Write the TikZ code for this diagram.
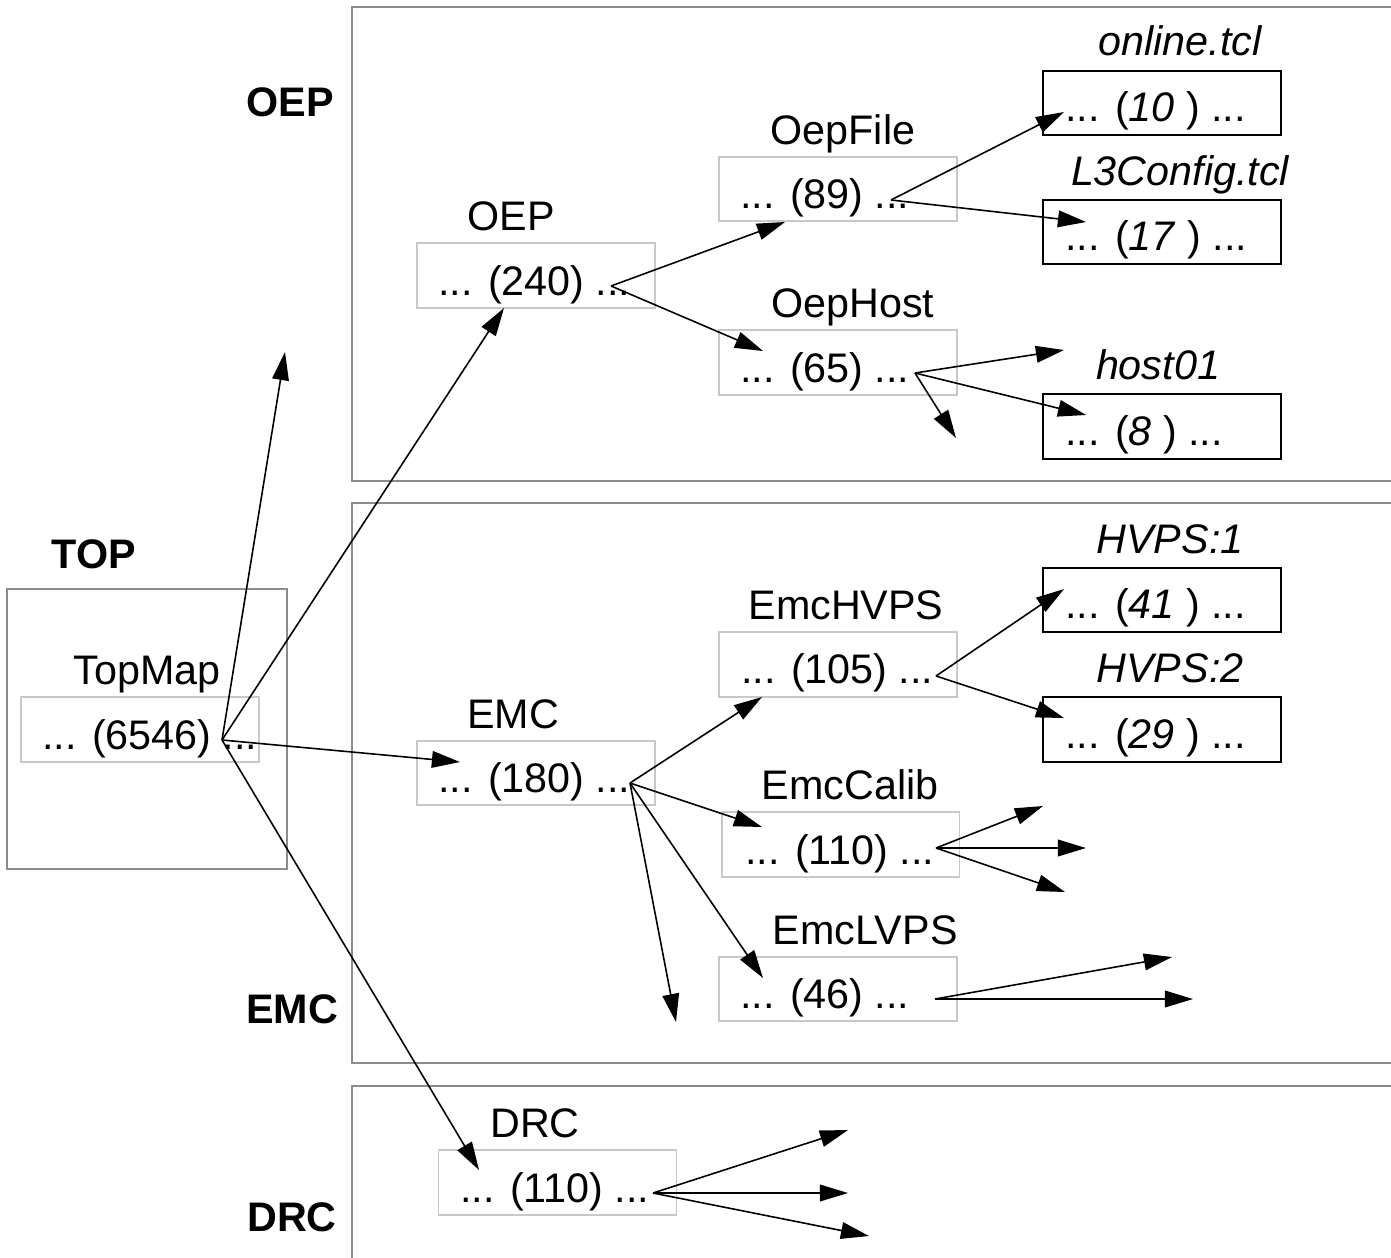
\documentclass[tikz,border=0pt]{standalone}
\usepackage{fontspec}
\setmainfont{Liberation Sans}
\usetikzlibrary{arrows.meta}
\definecolor{secgray}{HTML}{8C8C8C}
\definecolor{boxgray}{HTML}{C8C8C8}
\begin{document}
\begin{tikzpicture}[x=0.02cm,y=-0.02cm,
  every node/.style={font=\fontsize{23.5}{28}\selectfont, inner sep=0pt},
  sec/.style={draw=secgray, line width=1.1pt},
  cell/.style={minimum width=4.76cm, minimum height=1.29cm},
  gbox/.style={cell, draw=boxgray, line width=1.1pt},
  bbox/.style={cell, draw=black, line width=1.1pt},
  seclabel/.style={anchor=base, font=\fontsize{23.5}{28}\selectfont\bfseries},
  lbl/.style={anchor=base},
  val/.style={anchor=base west},
  arr/.style={-{Triangle[length=16pt,width=9.5pt]}, line width=0.9pt}
]
\useasboundingbox (0,0) rectangle (1391,1257);
\fill[white] (0,0) rectangle (1391,1257);

% section frames
\draw[sec] (1395,7) -- (352,7) -- (352,481) -- (1395,481);
\draw[sec] (1395,503) -- (352,503) -- (352,1063) -- (1395,1063);
\draw[sec] (1395,1086) -- (352,1086) -- (352,1262);
\draw[sec] (7,589) rectangle (287,869);

% section labels
\node[seclabel] (lOEP) at (290,116) {OEP};
\node[seclabel] (lTOP) at (94,568) {TOP};
\node[seclabel] (lEMC) at (292,1023) {EMC};
\node[seclabel] (lDRC) at (292,1231) {DRC};

% grey boxes
\node[gbox] (topB) at (140,729.5) {};
\node[gbox] (oepB) at (536,275.5) {};
\node[gbox] (fileB) at (838,189) {};
\node[gbox] (hostB) at (838,362.5) {};
\node[gbox] (emcB) at (536,773) {};
\node[gbox] (hvpsB) at (838,664.5) {};
\node[gbox] (calibB) at (840.5,844.5) {};
\node[gbox] (lvpsB) at (838,989) {};
\node[gbox] (drcB) at (557.5,1182.5) {};
% black boxes
\node[bbox] (onlineB) at (1162,103) {};
\node[bbox] (l3B) at (1162,232) {};
\node[bbox] (h01B) at (1162,426.5) {};
\node[bbox] (hv1B) at (1162,600) {};
\node[bbox] (hv2B) at (1162,729.5) {};

% box titles
\node[lbl] (tTop) at (147,684) {TopMap};
\node[lbl] (tOep) at (511,230) {OEP};
\node[lbl] (tFile) at (843,144) {OepFile};
\node[lbl] (tHost) at (853,317) {OepHost};
\node[lbl] (tEmc) at (513,728) {EMC};
\node[lbl] (tHvps) at (846,619) {EmcHVPS};
\node[lbl] (tCalib) at (850,799) {EmcCalib};
\node[lbl] (tLvps) at (865,944) {EmcLVPS};
\node[lbl] (tDrc) at (535,1137) {DRC};
\node[lbl] (tOnline) at (1180,56) {\itshape online.tcl};
\node[lbl] (tL3) at (1180,185) {\itshape L3Config.tcl};
\node[lbl] (tH01) at (1158,379) {\itshape host01};
\node[lbl] (tHv1) at (1170,553) {\itshape HVPS:1};
\node[lbl] (tHv2) at (1170,682) {\itshape HVPS:2};

% box contents
\node[val] (vTop) at (42,749) {... (6546) ...};
\node[val] (vOep) at (438,295) {... (240) ...};
\node[val] (vFile) at (740,208) {... (89) ...};
\node[val] (vHost) at (740,382) {... (65) ...};
\node[val] (vEmc) at (438,792) {... (180) ...};
\node[val] (vHvps) at (741,683) {... (105) ...};
\node[val] (vCalib) at (745,864) {... (110) ...};
\node[val] (vLvps) at (740,1008) {... (46) ...};
\node[val] (vDrc) at (460,1202) {... (110) ...};
\node[val] (vOnline) at (1065,121) {... (\textit{10} ) ...};
\node[val] (vL3) at (1065,250) {... (\textit{17} ) ...};
\node[val] (vH01) at (1065,445) {... (\textit{8} ) ...};
\node[val] (vHv1) at (1065,618) {... (\textit{41} ) ...};
\node[val] (vHv2) at (1065,748) {... (\textit{29} ) ...};

% arrow origins
\coordinate (topO) at (222,740);
\coordinate (oepO) at (611,286);
\coordinate (fileO) at (891,200);
\coordinate (hostO) at (915,373);
\coordinate (emcO) at (630,783);
\coordinate (hvpsO) at (936,676);
\coordinate (calibO) at (936,848);
\coordinate (lvpsO) at (935,999);
\coordinate (drcO) at (653,1193);

% arrow targets
\coordinate (topFree) at (285,352);
\coordinate (oepT) at (504,308);
\coordinate (emcT) at (460,762);
\coordinate (drcT) at (479,1170);
\coordinate (fileT) at (785,222);
\coordinate (hostT) at (763,351);
\coordinate (onlineT) at (1064,112);
\coordinate (l3T) at (1086,222);
\coordinate (hostFreeA) at (1064,350);
\coordinate (h01T) at (1086,415);
\coordinate (hostFreeB) at (956,438);
\coordinate (hvpsT) at (762,697);
\coordinate (calibT) at (762,827);
\coordinate (lvpsT) at (763,978);
\coordinate (emcFree) at (676,1022);
\coordinate (hv1T) at (1064,589);
\coordinate (hv2T) at (1064,718);
\coordinate (calibFreeA) at (1043,806);
\coordinate (calibFreeB) at (1086,848);
\coordinate (calibFreeC) at (1065,892);
\coordinate (lvpsFreeA) at (1172,957);
\coordinate (lvpsFreeB) at (1193,999);
\coordinate (drcFreeA) at (848,1130);
\coordinate (drcFreeB) at (848,1193);
\coordinate (drcFreeC) at (869,1236);

% connectors
\draw[arr] (topO) -- (topFree);
\draw[arr] (topO) -- (oepT);
\draw[arr] (topO) -- (emcT);
\draw[arr] (topO) -- (drcT);
\draw[arr] (oepO) -- (fileT);
\draw[arr] (oepO) -- (hostT);
\draw[arr] (fileO) -- (onlineT);
\draw[arr] (fileO) -- (l3T);
\draw[arr] (hostO) -- (hostFreeA);
\draw[arr] (hostO) -- (h01T);
\draw[arr] (hostO) -- (hostFreeB);
\draw[arr] (emcO) -- (hvpsT);
\draw[arr] (emcO) -- (calibT);
\draw[arr] (emcO) -- (lvpsT);
\draw[arr] (emcO) -- (emcFree);
\draw[arr] (hvpsO) -- (hv1T);
\draw[arr] (hvpsO) -- (hv2T);
\draw[arr] (calibO) -- (calibFreeA);
\draw[arr] (calibO) -- (calibFreeB);
\draw[arr] (calibO) -- (calibFreeC);
\draw[arr] (lvpsO) -- (lvpsFreeA);
\draw[arr] (lvpsO) -- (lvpsFreeB);
\draw[arr] (drcO) -- (drcFreeA);
\draw[arr] (drcO) -- (drcFreeB);
\draw[arr] (drcO) -- (drcFreeC);
\end{tikzpicture}
\end{document}
